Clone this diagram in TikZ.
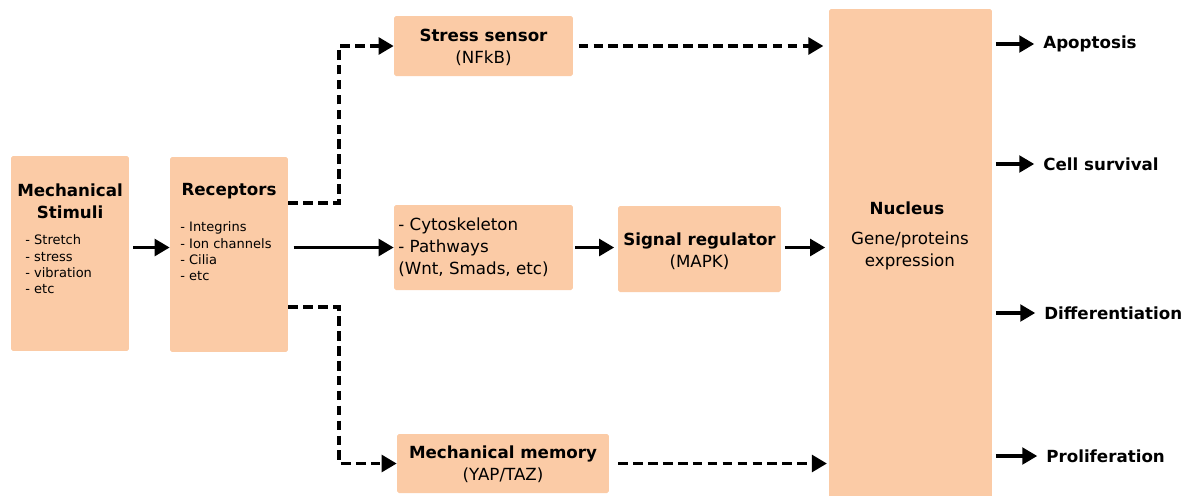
\documentclass[tikz,border=0pt]{standalone}
\usepackage{fontspec}
\setmainfont{DejaVu Sans}
\usetikzlibrary{arrows.meta}
\definecolor{peach}{RGB}{251,203,166}

\begin{document}
\begin{tikzpicture}[x=0.02cm, y=-0.02cm,
            box/.style={fill=peach, inner sep=0pt, rounded corners=1pt},
            title/.style={font=\fontsize{9.5}{12.5}\selectfont\bfseries, align=center, inner sep=0pt},
            txt/.style={font=\fontsize{9.5}{12.5}\selectfont, align=center, inner sep=0pt},
            small/.style={font=\fontsize{7.4}{9.25}\selectfont, align=left, anchor=west, inner sep=0pt},
            outcome/.style={font=\fontsize{9.5}{12}\selectfont\bfseries, anchor=west, inner sep=0pt},
            arr/.style={-{Triangle[length=8.5pt,width=9.5pt]}, line width=1.8pt},
            dasharr/.style={arr, line width=1.9pt, dash pattern=on 5.5pt off 3pt}
        ]
            \useasboundingbox (0,0) rectangle (1201,495);
            % boxes
            \node[box, minimum width=2.36cm, minimum height=3.9cm] (stim) at (70,253.5) {};
            \node[box, minimum width=2.36cm, minimum height=3.9cm] (recep) at (229,254.5) {};
            \node[box, minimum width=3.58cm, minimum height=1.2cm] (stress) at (483.5,46) {};
            \node[box, minimum width=3.58cm, minimum height=1.7cm] (cyto) at (483.5,247.5) {};
            \node[box, minimum width=3.26cm, minimum height=1.72cm] (signal) at (699.5,249) {};
            \node[box, minimum width=4.24cm, minimum height=1.18cm] (memory) at (503,463.5) {};
            \node[box, minimum width=3.26cm, minimum height=9.92cm] (nucleus) at (910.5,257) {};
            % box texts
            \node[txt] (stim-title) at (70,201) {\textbf{Mechanical}\\\textbf{Stimuli}};
            \node[small] (stim-list) at (25,264.5) {- Stretch\\- stress\\- vibration\\- etc};
            \node[title] (recep-title) at (229,191) {Receptors};
            \node[small] (recep-list) at (180,251.5) {- Integrins\\- Ion channels\\- Cilia\\- etc};
            \node[txt] (stress-text) at (483.5,47) {\textbf{Stress sensor}\\(NFkB)};
            \node[txt, align=left, anchor=west] (cyto-text) at (398,247.5) {- Cytoskeleton\\- Pathways\\(Wnt, Smads, etc)};
            \node[txt] (signal-text) at (699.5,251) {\textbf{Signal regulator}\\(MAPK)};
            \node[txt] (memory-text) at (503,464) {\textbf{Mechanical memory}\\(YAP/TAZ)};
            \node[title] (nucleus-title) at (907,208) {Nucleus};
            \node[txt] (nucleus-text) at (910,250.5) {Gene/proteins\\expression};
            % outcomes
            \node[outcome] (apop) at (1043,44) {Apoptosis};
            \node[outcome] (surv) at (1043,164) {Cell survival};
            \node[outcome] (diff) at (1044,313) {Differentiation};
            \node[outcome] (prol) at (1046,456) {Proliferation};
            % connectors
            \coordinate (up) at (339,203);
            \coordinate (down) at (339,307);
            \draw[arr, shorten <=2.3pt] (stim.east |- cyto) -- (recep.west |- cyto);
            \draw[arr, shorten <=3pt] (recep.east |- cyto) -- (cyto.west);
            \draw[dasharr] (recep.east |- up) -- (up) |- (stress.west);
            \draw[dasharr] (recep.east |- down) -- (down) |- (memory.west);
            \draw[dasharr, shorten <=3pt, shorten >=3pt] (stress.east) -- (nucleus.west |- stress.east);
            \draw[arr, shorten <=1pt, shorten >=2pt] (cyto.east) -- (signal.west |- cyto.east);
            \draw[arr, shorten <=2pt, shorten >=2pt] (signal.east |- cyto.east) -- (nucleus.west |- cyto.east);
            \draw[dasharr, shorten <=5pt, shorten >=1pt] (memory.east) -- (nucleus.west |- memory.east);
            \draw[arr, shorten <=2pt, shorten >=5pt] (nucleus.east |- apop.west) -- (apop.west);
            \draw[arr, shorten <=2pt, shorten >=5pt] (nucleus.east |- surv.west) -- (surv.west);
            \draw[arr, shorten <=2pt, shorten >=5pt] (nucleus.east |- diff.west) -- (diff.west);
            \draw[arr, shorten <=2pt, shorten >=5pt] (nucleus.east |- prol.west) -- (prol.west);
        \end{tikzpicture}
\end{document}
